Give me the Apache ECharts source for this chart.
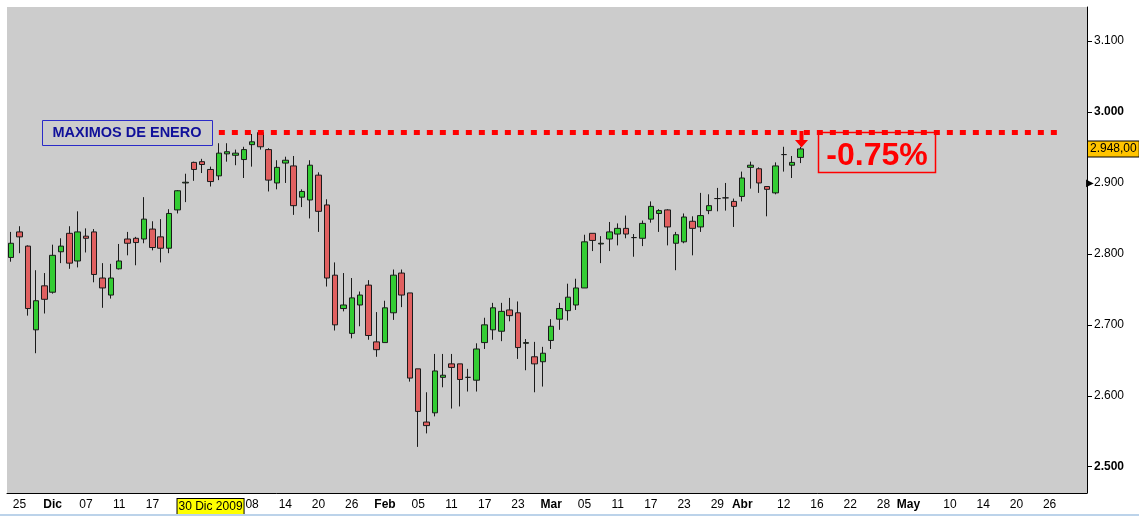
<!DOCTYPE html>
<html>
<head>
<meta charset="utf-8">
<script src="https://cdn.jsdelivr.net/npm/echarts@6/dist/echarts.min.js"></script>
<style>
  html, body { margin: 0; padding: 0; background: #fff; }
  #main { width: 1139px; height: 516px; }
</style>
</head>
<body>
<div id="main"></div>
<script>
// trading days on the axis; prices stop at 14 Apr 2010, the rest is empty room
const dates = [
  '2009-11-24','2009-11-25','2009-11-26','2009-11-27','2009-11-30',
  '2009-12-01','2009-12-02','2009-12-03','2009-12-04','2009-12-07',
  '2009-12-08','2009-12-09','2009-12-10','2009-12-11','2009-12-14',
  '2009-12-15','2009-12-16','2009-12-17','2009-12-18','2009-12-21',
  '2009-12-22','2009-12-23','2009-12-28','2009-12-29','2009-12-30',
  '2010-01-04','2010-01-05','2010-01-06','2010-01-07','2010-01-08',
  '2010-01-11','2010-01-12','2010-01-13','2010-01-14','2010-01-15',
  '2010-01-18','2010-01-19','2010-01-20','2010-01-21','2010-01-22',
  '2010-01-25','2010-01-26','2010-01-27','2010-01-28','2010-01-29',
  '2010-02-01','2010-02-02','2010-02-03','2010-02-04','2010-02-05',
  '2010-02-08','2010-02-09','2010-02-10','2010-02-11','2010-02-12',
  '2010-02-15','2010-02-16','2010-02-17','2010-02-18','2010-02-19',
  '2010-02-22','2010-02-23','2010-02-24','2010-02-25','2010-02-26',
  '2010-03-01','2010-03-02','2010-03-03','2010-03-04','2010-03-05',
  '2010-03-08','2010-03-09','2010-03-10','2010-03-11','2010-03-12',
  '2010-03-15','2010-03-16','2010-03-17','2010-03-18','2010-03-19',
  '2010-03-22','2010-03-23','2010-03-24','2010-03-25','2010-03-26',
  '2010-03-29','2010-03-30','2010-03-31','2010-04-01',
  '2010-04-06','2010-04-07','2010-04-08','2010-04-09',
  '2010-04-12','2010-04-13','2010-04-14','2010-04-15','2010-04-16',
  '2010-04-19','2010-04-20','2010-04-21','2010-04-22','2010-04-23',
  '2010-04-26','2010-04-27','2010-04-28','2010-04-29','2010-04-30',
  '2010-05-03','2010-05-04','2010-05-05','2010-05-06','2010-05-07',
  '2010-05-10','2010-05-11','2010-05-12','2010-05-13','2010-05-14',
  '2010-05-17','2010-05-18','2010-05-19','2010-05-20','2010-05-21',
  '2010-05-24','2010-05-25','2010-05-26','2010-05-27','2010-05-28',
  '2010-05-31','2010-06-01'
];

const opens = [
  2795,2831,2811,2693,2755,2746,2803,2829,2790,2825,
  2831,2766,2742,2779,2821,2822,2821,2835,2824,2808,
  2862,2900,2929,2930,2919,2910,2941,2939,2933,2954,
  2971,2947,2900,2928,2924,2880,2876,2911,2869,2770,
  2723,2688,2728,2756,2676,2675,2717,2773,2745,2638,
  2563,2576,2626,2645,2645,2626,2622,2675,2693,2691,
  2721,2717,2674,2655,2648,2678,2708,2720,2728,2752,
  2829,2814,2821,2828,2836,2823,2822,2849,2857,2862,
  2815,2817,2846,2838,2861,2878,2879,2874,2881,2922,
  2920,2895,2886,2940,2925,2936
];
const closes = [
  2815,2824,2723,2734,2736,2798,2811,2787,2831,2822,
  2771,2752,2766,2790,2815,2816,2849,2809,2808,2857,
  2889,2901,2919,2926,2902,2942,2944,2942,2947,2958,
  2951,2904,2922,2932,2868,2888,2925,2860,2766,2700,
  2728,2738,2742,2685,2665,2724,2770,2742,2625,2578,
  2558,2635,2629,2640,2623,2626,2666,2700,2724,2719,
  2713,2668,2675,2645,2660,2698,2723,2739,2752,2817,
  2819,2815,2831,2836,2828,2823,2843,2867,2861,2838,
  2827,2852,2836,2854,2868,2878,2879,2867,2907,2925,
  2900,2891,2924,2940,2929,2948
];
const lows = [
  2789,2801,2713,2660,2716,2744,2787,2779,2781,2802,
  2760,2724,2737,2778,2798,2784,2815,2805,2788,2801,
  2857,2873,2903,2914,2895,2904,2930,2925,2907,2923,
  2947,2888,2891,2900,2855,2866,2850,2831,2754,2692,
  2719,2681,2698,2679,2655,2675,2707,2725,2620,2528,
  2547,2571,2612,2582,2585,2606,2606,2666,2679,2677,
  2705,2652,2636,2605,2613,2666,2693,2706,2721,2752,
  2804,2787,2804,2812,2822,2796,2811,2844,2831,2812,
  2777,2815,2798,2831,2856,2860,2861,2838,2874,2892,
  2886,2853,2884,2916,2907,2928
];
const highs = [
  2831,2839,2812,2777,2773,2813,2822,2839,2860,2836,
  2835,2787,2786,2814,2831,2824,2880,2846,2849,2863,
  2890,2913,2930,2934,2923,2956,2956,2947,2951,2969,
  2972,2949,2932,2937,2938,2891,2932,2915,2877,2788,
  2773,2766,2747,2763,2718,2734,2778,2778,2745,2638,
  2605,2659,2659,2659,2645,2638,2674,2710,2731,2731,
  2738,2733,2680,2676,2669,2708,2731,2758,2765,2827,
  2829,2825,2845,2843,2854,2828,2847,2874,2863,2863,
  2831,2857,2853,2886,2884,2893,2900,2878,2916,2930,
  2922,2895,2929,2951,2938,2951
];

// x axis labels (by date) and the price ticks
const labelDates = [
  '2009-11-25','2009-12-01','2009-12-07','2009-12-11','2009-12-17','2009-12-30',
  '2010-01-08','2010-01-14','2010-01-20','2010-01-26','2010-02-01','2010-02-05',
  '2010-02-11','2010-02-17','2010-02-23','2010-03-01','2010-03-05','2010-03-11',
  '2010-03-17','2010-03-23','2010-03-29','2010-04-01','2010-04-12','2010-04-16',
  '2010-04-22','2010-04-28','2010-05-03','2010-05-10','2010-05-14','2010-05-20',
  '2010-05-26'
];
const labelTexts = [
  '25','Dic','07','11','17','30 Dic 2009',
  '08','14','20','26','Feb','05',
  '11','17','23','Mar','05','11',
  '17','23','29','Abr','12','16',
  '22','28','May','10','14','20',
  '26'
];
const monthLabels = ['Dic','Feb','Mar','Abr','May'];
const cursorDate = '2009-12-30';
const hiddenTickDates = ['2009-12-23','2010-01-04']; // labels sit under the date box
const priceTicks = [2500, 2600, 2700, 2800, 2900, 3000, 3100];
const boldPrices = [2500, 3000];

const janMax = 2971;
const lastClose = 2948;
const markerPrice = 2900;
const lineFrom = '2010-01-04';
const lineTo = '2010-05-27';

const FONT = '"Liberation Sans", Arial, sans-serif';
const CLEAR = 'rgba(0,0,0,0)';

const labelOf = {};
labelDates.forEach((d, i) => { labelOf[d] = labelTexts[i]; });
const tickDates = new Set(labelDates.filter(d => d !== cursorDate).concat(hiddenTickDates));

const candles = opens.map((o, i) => [o, closes[i], lows[i], highs[i]]);

function fmtPrice(v) {
  const s = String(Math.round(v));
  return s.slice(0, s.length - 3) + '.' + s.slice(-3);
}

const chart = echarts.init(document.getElementById('main'), null, { renderer: 'canvas' });

chart.setOption({
  animation: false,
  backgroundColor: '#ffffff',
  textStyle: { fontFamily: FONT },
  grid: {
    left: 7, right: 52, top: 7, bottom: 23,
    show: true, backgroundColor: '#cccccc', borderWidth: 0
  },
  xAxis: {
    type: 'category',
    data: dates,
    boundaryGap: true,
    axisLine: { lineStyle: { color: '#000', width: 1 } },
    axisTick: {
      alignWithLabel: true,
      length: 4,
      interval: (i, v) => tickDates.has(v),
      lineStyle: { color: '#000' }
    },
    axisLabel: {
      interval: (i, v) => labelOf[v] !== undefined,
      margin: 6,
      fontSize: 12,
      fontFamily: FONT,
      color: '#000',
      formatter: v => {
        const t = labelOf[v];
        if (v === cursorDate) return '{y|' + t + '}';
        if (monthLabels.includes(t)) return '{b|' + t + '}';
        return t;
      },
      rich: {
        b: { fontWeight: 'bold', fontSize: 12, fontFamily: FONT, color: '#000' },
        y: {
          backgroundColor: '#ffff00', borderColor: '#000', borderWidth: 1,
          padding: [2, 1, 1, 1], fontSize: 12, fontFamily: FONT, color: '#000'
        }
      }
    },
    splitLine: { show: false }
  },
  yAxis: {
    type: 'value',
    position: 'right',
    min: 2463,
    max: 3148,
    axisLine: { show: true, lineStyle: { color: '#000', width: 1 } },
    axisTick: { show: true, customValues: priceTicks, length: 5, lineStyle: { color: '#000' } },
    axisLabel: {
      customValues: priceTicks,
      margin: 7,
      fontSize: 12,
      fontFamily: FONT,
      color: '#000',
      formatter: v => boldPrices.includes(v) ? '{b|' + fmtPrice(v) + '}' : fmtPrice(v),
      rich: { b: { fontWeight: 'bold', fontSize: 12, fontFamily: FONT, color: '#000' } }
    },
    splitLine: { show: false }
  },
  series: [{
    type: 'candlestick',
    data: candles,
    barWidth: 6,
    clip: false,
    itemStyle: {
      color: '#33cc33',
      color0: '#e06060',
      borderColor: '#1a1a1a',
      borderColor0: '#1a1a1a',
      borderColorDoji: '#1a1a1a',
      borderWidth: 1
    },
    markLine: {
      silent: true,
      symbol: ['none', 'none'],
      animation: false,
      label: { show: false },
      lineStyle: { color: '#ff0000', width: 5, type: [6, 7] },
      emphasis: { disabled: true },
      data: [
        [
          { coord: [lineFrom, janMax], lineStyle: { color: '#ff0000', width: 5, type: [6, 7] } },
          { coord: [lineTo, janMax] }
        ],
        {
          yAxis: lastClose,
          lineStyle: { color: CLEAR, width: 0, type: 'solid' },
          label: {
            show: true, position: 'end', distance: 1,
            formatter: '2.948,00',
            backgroundColor: '#ffc400', borderColor: '#000', borderWidth: 1,
            padding: [2, 2, 1, 2], color: '#000', fontSize: 12, fontFamily: FONT
          }
        },
        {
          yAxis: markerPrice,
          lineStyle: { color: CLEAR, width: 0, type: 'solid' },
          label: {
            show: true, position: 'end', distance: -1,
            formatter: '\u25B6', color: '#000', fontSize: 10
          }
        }
      ]
    }
  }],
  graphic: [
    {
      type: 'rect', z: 100,
      shape: { x: 42.5, y: 120.5, width: 170, height: 25 },
      style: { fill: '#cccccc', stroke: '#2a2ac8', lineWidth: 1 }
    },
    {
      type: 'text', z: 101, x: 127, y: 133,
      style: {
        text: 'MAXIMOS DE ENERO', align: 'center', verticalAlign: 'middle',
        font: 'bold 14.5px ' + FONT, fill: '#10109a'
      }
    },
    {
      type: 'rect', z: 100,
      shape: { x: 818.5, y: 132.5, width: 117, height: 40 },
      style: { fill: 'none', stroke: '#ff0000', lineWidth: 1.5 }
    },
    {
      type: 'text', z: 101, x: 877, y: 156,
      style: {
        text: '-0.75%', align: 'center', verticalAlign: 'middle',
        font: 'bold 32px ' + FONT, fill: '#ff0000'
      }
    },
    {
      type: 'polygon', z: 100,
      shape: { points: [[799.5, 131], [803.5, 131], [803.5, 140], [808, 140], [801.5, 147.5], [795, 140], [799.5, 140]] },
      style: { fill: '#ff0000' }
    },
    {
      type: 'rect', z: 100,
      shape: { x: 0, y: 514, width: 1139, height: 2 },
      style: { fill: '#bcd3ea' }
    }
  ]
});
</script>
</body>
</html>
